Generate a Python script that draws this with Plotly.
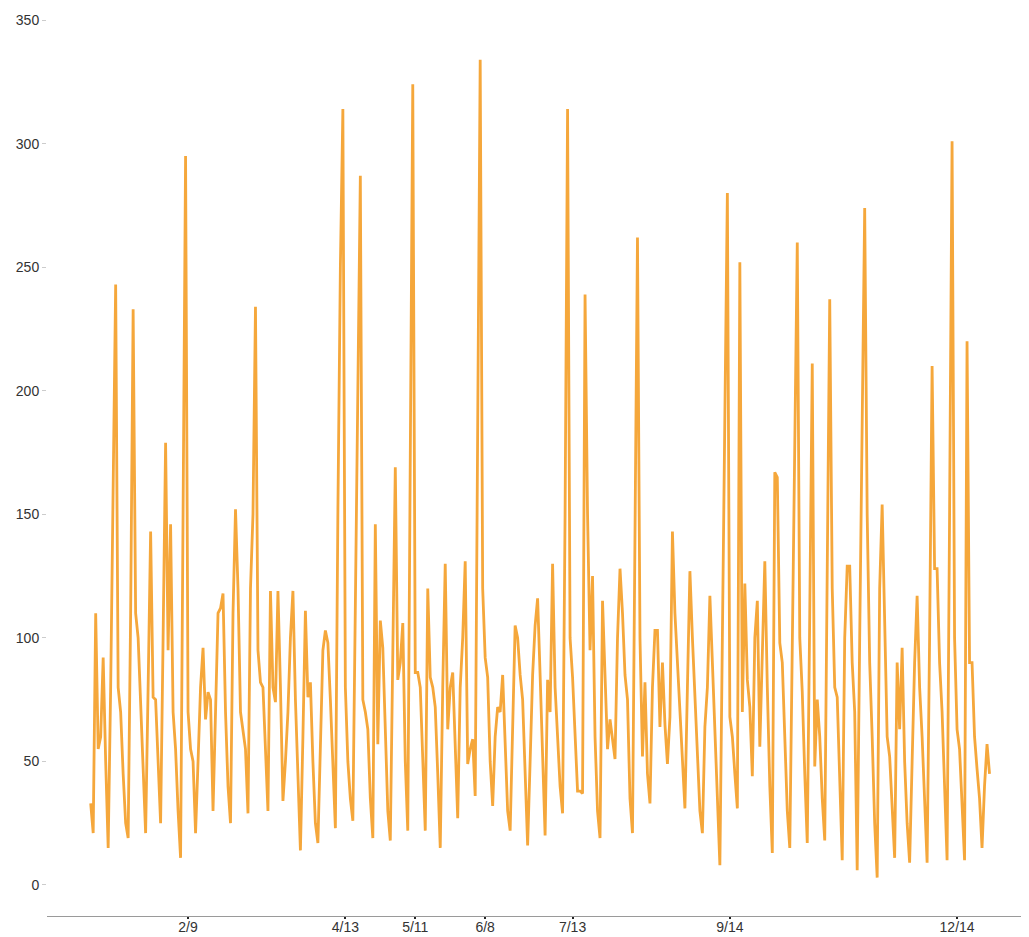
import pandas as pd
import plotly.graph_objects as go

start_date = "2014-01-01"

values = [
    33, 21, 110, 55, 60, 92, 50, 15, 80, 160,            # d0-9
    243, 80, 70, 45, 25, 19, 110, 233, 110, 100,         # d10-19
    75, 45, 21, 80, 143, 76, 75, 50, 25, 100,            # d20-29
    179, 95, 146, 70, 55, 30, 11, 150, 295, 70,          # d30-39
    55, 50, 21, 50, 80, 96, 67, 78, 75, 30,              # d40-49
    70, 110, 112, 118, 70, 40, 25, 110, 152, 120,        # d50-59
    70, 62, 55, 29, 120, 150, 234, 95, 82, 80,           # d60-69
    55, 30, 119, 80, 74, 119, 80, 34, 50, 70,            # d70-79
    100, 119, 75, 40, 14, 60, 111, 76, 82, 50,           # d80-89
    25, 17, 60, 95, 103, 98, 75, 45, 23, 150,            # d90-99
    250, 314, 80, 50, 35, 26, 120, 220, 287, 75,         # d100-109
    70, 63, 35, 19, 146, 57, 107, 96, 60, 30,            # d110-119
    18, 100, 169, 83, 90, 106, 50, 22, 200, 324,         # d120-129
    86, 86, 80, 50, 22, 120, 84, 80, 72, 45,             # d130-139
    15, 80, 130, 63, 80, 86, 55, 27, 80, 100,            # d140-149
    131, 49, 55, 59, 36, 180, 334, 120, 92, 84,          # d150-159
    50, 32, 60, 72, 70, 85, 60, 30, 22, 65,              # d160-169
    105, 100, 85, 75, 45, 16, 50, 85, 105, 116,          # d170-179
    85, 50, 20, 83, 70, 130, 80, 60, 40, 29,             # d180-189
    150, 314, 100, 84, 60, 38, 38, 37, 239, 150,         # d190-199
    95, 125, 60, 30, 19, 115, 85, 55, 67, 60,            # d200-209
    51, 100, 128, 110, 85, 75, 35, 21, 150, 262,         # d210-219
    100, 52, 82, 45, 33, 80, 103, 103, 64, 90,           # d220-229
    65, 49, 68, 143, 110, 90, 70, 55, 31, 80,            # d230-239
    127, 100, 75, 50, 30, 21, 64, 80, 117, 90,           # d240-249
    60, 35, 8, 100, 200, 280, 68, 60, 45, 31,            # d250-259
    252, 70, 122, 83, 72, 44, 100, 115, 56, 90,          # d260-269
    131, 80, 40, 13, 167, 165, 98, 90, 60, 30,           # d270-279
    15, 100, 200, 260, 100, 78, 45, 17, 110, 211,        # d280-289
    48, 75, 60, 35, 18, 120, 237, 120, 80, 76,           # d290-299
    40, 10, 100, 129, 129, 90, 70, 6, 100, 200,          # d300-309
    274, 150, 90, 60, 25, 3, 120, 154, 100, 60,          # d310-319
    52, 30, 11, 90, 63, 96, 50, 25, 9, 50,               # d320-329
    90, 117, 80, 60, 30, 9, 100, 210, 128, 128,          # d330-339
    90, 70, 40, 10, 150, 301, 100, 63, 55, 30,           # d340-349
    10, 220, 90, 90, 60, 47, 35, 15, 40, 57,             # d350-359
    45,                                                  # d360
]

tick_dates = ["2014-02-09", "2014-04-13", "2014-05-11", "2014-06-08",
              "2014-07-13", "2014-09-14", "2014-12-14"]
tick_labels = ["2/9", "4/13", "5/11", "6/8", "7/13", "9/14", "12/14"]

y_ticks = [0, 50, 100, 150, 200, 250, 300, 350]

dates = pd.date_range(start_date, periods=len(values), freq="D")

fig = go.Figure()
fig.add_trace(go.Scatter(
    x=dates, y=values, mode="lines",
    line=dict(color="#F5A73B", width=2.8),
    hoverinfo="x+y",
))

# page body has an 8px default margin, so the figure is sized to fit inside the window
fig.update_layout(
    width=1021, height=929,
    margin=dict(l=39, r=4, t=2, b=21),
    paper_bgcolor="white", plot_bgcolor="white",
    showlegend=False,
    font=dict(family="Liberation Sans, Arial, sans-serif", size=14, color="#333333"),
)
fig.update_xaxes(
    type="date",
    range=["2013-12-14 12:00", "2015-01-10 05:00"],
    tickvals=tick_dates, ticktext=tick_labels,
    showgrid=False, zeroline=False,
    showline=True, linecolor="#9a9a9a", linewidth=1,
    ticks="outside", ticklen=2, tickcolor="#222222", tickwidth=2,
    ticklabelstandoff=-4,
    automargin=False,
    tickfont=dict(size=14, color="#333333"),
)
fig.update_yaxes(
    range=[-12.55, 354.1],
    tickvals=y_ticks,
    showgrid=False, zeroline=False, showline=False,
    ticks="outside", ticklen=4, tickcolor="#cccccc",
    automargin=False,
    tickfont=dict(size=14, color="#333333"),
)

fig.write_html("out.html")
